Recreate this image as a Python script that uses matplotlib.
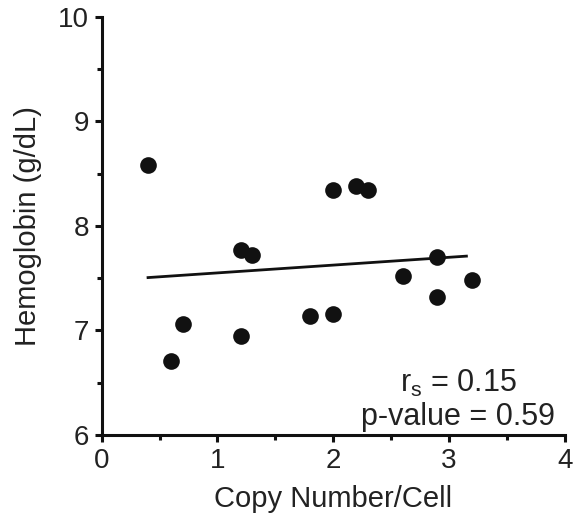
import numpy as np
import matplotlib
matplotlib.use("Agg")
import matplotlib.pyplot as plt
from matplotlib.ticker import MultipleLocator

plt.rcParams["font.family"] = ["Liberation Sans", "DejaVu Sans"]
plt.rcParams["mathtext.fontset"] = "custom"
plt.rcParams["mathtext.rm"] = "Liberation Sans"

# copy number per cell vs hemoglobin
copy_number = [0.4, 0.6, 0.7, 1.2, 1.3, 1.2, 1.8, 2.0, 2.0, 2.2, 2.3, 2.6, 2.9, 2.9, 3.2]
hemoglobin = [8.58, 6.71, 7.06, 7.77, 7.72, 6.95, 7.14, 7.16, 8.34, 8.38, 8.34, 7.52, 7.70, 7.32, 7.48]
fit_x = [0.4, 3.15]
rs_text = "r$_{\\rm s}$ = 0.15"
p_text = "p-value = 0.59"

fig = plt.figure(figsize=(5.76, 5.21), dpi=100)
ax = fig.add_axes([0.1766, 0.165, 0.804, 0.803])

slope, icpt = np.polyfit(copy_number, hemoglobin, 1)
fx = np.array(fit_x)
ax.plot(fx, slope * fx + icpt, color="#111111", lw=2.0, zorder=2)
ax.plot(copy_number, hemoglobin, "o", color="#111111", ms=12, mew=0, zorder=3)

ax.set_xlim(0, 4)
ax.set_ylim(6, 10)
ax.xaxis.set_major_locator(MultipleLocator(1))
ax.xaxis.set_minor_locator(MultipleLocator(0.5))
ax.yaxis.set_major_locator(MultipleLocator(1))
ax.yaxis.set_minor_locator(MultipleLocator(0.5))

for s in ["top", "right"]:
    ax.spines[s].set_visible(False)
for s in ["left", "bottom"]:
    ax.spines[s].set_linewidth(2.2)
    ax.spines[s].set_color("#111111")
ax.tick_params(which="major", direction="out", length=5, width=2.2,
               labelsize=20, color="#111111", labelcolor="#222222", pad=4)
ax.tick_params(which="minor", direction="out", length=3.5, width=2.2, color="#111111")

ax.set_xlabel("Copy Number/Cell", fontsize=21, labelpad=8, color="#222222")
ax.set_ylabel("Hemoglobin (g/dL)", fontsize=21, labelpad=12, color="#222222")

ax.text(3.08, 6.41, rs_text, fontsize=22, ha="center", va="baseline", color="#222222")
ax.text(3.08, 6.10, p_text, fontsize=22, ha="center", va="baseline", color="#222222")

fig.savefig("out.png", dpi=100)
